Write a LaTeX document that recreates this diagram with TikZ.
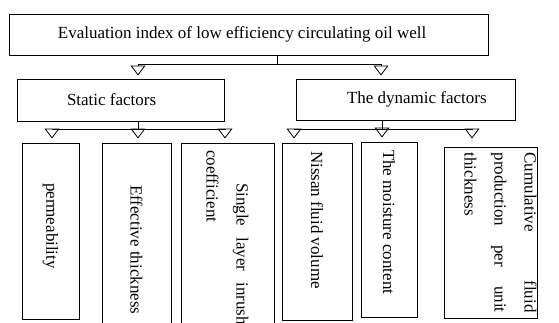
\documentclass[tikz,border=0pt]{standalone}
\usepackage{fontspec}
\setmainfont{Liberation Serif}
\usetikzlibrary{arrows.meta}
\hyphenpenalty=10000
\exhyphenpenalty=10000

\begin{document}
\begin{tikzpicture}[
    x=1pt, y=-1pt,
    box/.style={draw=black, line width=1pt, inner sep=0pt, align=flush left, font=\fontsize{17pt}{30pt}\selectfont},
    leaf/.style={box, rotate=-90, inner xsep=7pt},
    bus/.style={line width=0.8pt},
    arrow/.style={-{Triangle[open, length=10pt, width=15pt]}, line width=0.8pt}
]
\useasboundingbox (0,0) rectangle (559,322);

% top level
\node[box, text width=479pt, minimum height=41pt] (root) at (248.5,34.5) {\hspace*{49pt}Evaluation index of low efficiency circulating oil well};

% second level
\node[box, text width=207pt, minimum height=42pt] (static) at (120.5,100) {\hspace*{50pt}Static factors};
\node[box, text width=219pt, minimum height=41pt] (dynamic) at (405.5,99.5) {\hspace*{51pt}The dynamic factors};

% leaves
\node[leaf, text width=162pt, minimum height=57pt] (perm) at (50.5,231) {\hspace*{33pt}permeability};
\node[leaf, text width=220pt, minimum height=69pt] (thick) at (136.5,260) {\hspace*{35pt}Effective thickness};
\node[leaf, text width=175pt, align=justify, minimum height=93pt] (inrush) at (227.5,237.5) {\hspace*{33pt}Single layer inrush coefficient};
\node[leaf, text width=161pt, inner xsep=8pt, minimum height=70pt] (nissan) at (317,231.5) {Nissan fluid volume};
\node[leaf, text width=159pt, inner xsep=8pt, minimum height=56pt] (water) at (389,229.5) {The moisture content};
\node[leaf, text width=160pt, align=justify, inner xsep=5.5pt, minimum height=93pt, text depth=80pt] (cumul) at (490.5,232.5) {Cumulative fluid production per unit thickness};

% root -> factors
\coordinate (r0) at (277,64);
\coordinate (r1) at (138,64);
\coordinate (r2) at (381,64);
\draw[bus] (root.south -| r0) -- (r0);
\draw[bus] (r1) -- (r2);
\draw[arrow, shorten >=3pt] (r1) -- (r1 |- static.north);
\draw[arrow, shorten >=3pt] (r2) -- (r2 |- dynamic.north);

% static -> leaves
\coordinate (s0) at (138,129);
\coordinate (s1) at (52,129);
\coordinate (s2) at (225,129);
\draw[bus] (static.south -| s0) -- (s0);
\draw[bus] (s1) -- (s2);
\draw[arrow, shorten >=4pt] (s1) -- (s1 |- perm.west);
\draw[arrow, shorten >=4pt] (s0) -- (s0 |- thick.west);
\draw[arrow, shorten >=4pt] (s2) -- (s2 |- inrush.west);

% dynamic -> leaves
\coordinate (d0) at (382,129);
\coordinate (d1) at (294,129);
\coordinate (d2) at (472,129);
\draw[bus] (dynamic.south -| d0) -- (d0);
\draw[bus] (d1) -- (d2);
\draw[arrow, shorten >=4pt] (d1) -- (d1 |- nissan.west);
\draw[arrow, shorten >=4pt] (d0) -- (d0 |- water.west);
\draw[arrow, shorten >=8pt] (d2) -- (d2 |- cumul.west);

\end{tikzpicture}
\end{document}
